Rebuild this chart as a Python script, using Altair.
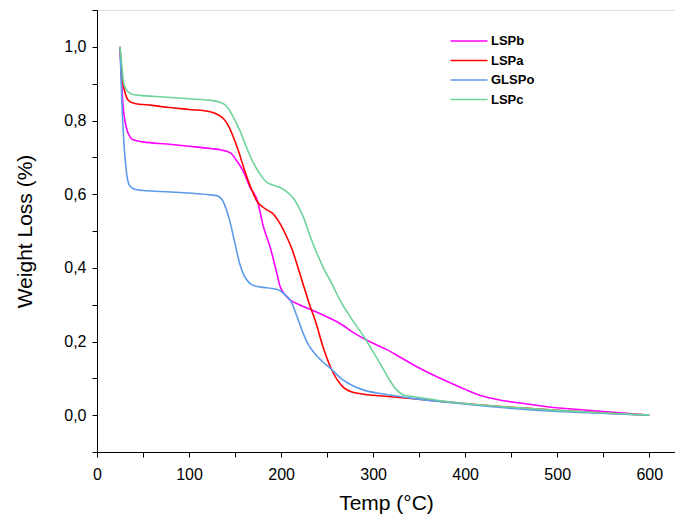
import altair as alt
import pandas as pd

series_names = ["LSPb", "LSPa", "GLSPo", "LSPc"]
series_colors = ["#FF00FF", "#FF0000", "#5C9BEA", "#6DD39B"]

lspb_t = [25, 28, 32, 36, 40, 50, 76, 100, 123, 135, 145, 152, 159, 166, 174, 181, 188, 194, 199, 205, 210, 220, 231, 253, 264, 280, 300, 315, 329, 345, 362, 380, 400, 416, 440, 460, 489, 520, 550, 575, 600]
lspb_w = [1.0, 0.85, 0.78, 0.755, 0.747, 0.742, 0.736, 0.730, 0.724, 0.720, 0.712, 0.69, 0.662, 0.62, 0.584, 0.51, 0.457, 0.40, 0.349, 0.325, 0.3125, 0.30, 0.288, 0.263, 0.249, 0.222, 0.195, 0.178, 0.158, 0.135, 0.113, 0.092, 0.07, 0.054, 0.04, 0.033, 0.023, 0.016, 0.01, 0.005, 0.0]

lspa_t = [25, 27, 30, 34, 40, 60, 76, 100, 123, 132, 137, 143, 148, 154, 159, 166, 174, 183, 192, 200, 206, 212, 217, 224, 231, 238, 245, 253, 260, 268, 278, 290, 320, 350, 380, 420, 460, 500, 550, 600]
lspa_w = [1.0, 0.92, 0.88, 0.855, 0.847, 0.841, 0.836, 0.830, 0.824, 0.815, 0.806, 0.785, 0.756, 0.715, 0.675, 0.625, 0.58, 0.56, 0.545, 0.515, 0.485, 0.45, 0.412, 0.355, 0.30, 0.25, 0.19, 0.135, 0.10, 0.075, 0.062, 0.057, 0.05, 0.043, 0.036, 0.027, 0.02, 0.013, 0.006, 0.0]

glspo_t = [25, 27, 29, 32, 35, 40, 50, 80, 100, 123, 130, 136, 141, 145, 150, 155, 160, 166, 173, 181, 190, 199, 205, 210, 217, 224, 230, 235, 245, 253, 265, 278, 290, 310, 344, 380, 420, 452, 500, 550, 600]
glspo_w = [1.0, 0.85, 0.75, 0.66, 0.625, 0.614, 0.61, 0.606, 0.603, 0.598, 0.596, 0.585, 0.555, 0.52, 0.465, 0.412, 0.378, 0.358, 0.35, 0.347, 0.344, 0.338, 0.325, 0.3125, 0.27, 0.222, 0.19, 0.172, 0.145, 0.129, 0.10, 0.08, 0.068, 0.058, 0.045, 0.035, 0.025, 0.018, 0.01, 0.005, 0.0]

lspc_t = [25, 27, 29, 32, 36, 40, 60, 76, 100, 126, 134, 141, 148, 155, 162, 170, 177, 184, 192, 199, 206, 213, 218, 224, 231, 239, 246, 253, 264, 277, 290, 300, 310, 318, 325, 333, 345, 380, 420, 460, 500, 550, 600]
lspc_w = [1.0, 0.95, 0.90, 0.883, 0.874, 0.870, 0.866, 0.863, 0.859, 0.854, 0.849, 0.838, 0.81, 0.774, 0.73, 0.684, 0.655, 0.633, 0.624, 0.618, 0.607, 0.59, 0.57, 0.539, 0.49, 0.439, 0.40, 0.367, 0.3125, 0.26, 0.213, 0.172, 0.13, 0.095, 0.07, 0.055, 0.05, 0.037, 0.027, 0.02, 0.013, 0.006, 0.0]

x_ticks = [0, 50, 100, 150, 200, 250, 300, 350, 400, 450, 500, 550, 600]
y_ticks = [-0.1, 0.0, 0.1, 0.2, 0.3, 0.4, 0.5, 0.6, 0.7, 0.8, 0.9, 1.0, 1.1]

frames = []
for name, ts, ws in [("LSPb", lspb_t, lspb_w), ("LSPa", lspa_t, lspa_w),
                     ("GLSPo", glspo_t, glspo_w), ("LSPc", lspc_t, lspc_w)]:
    frames.append(pd.DataFrame({"T": ts, "W": ws, "Sample": name}))
df = pd.concat(frames, ignore_index=True)
df["order"] = df["Sample"].map({n: i for i, n in enumerate(series_names)})

FONT = "Liberation Sans"

chart = alt.Chart(df).mark_line(strokeWidth=1.6, interpolate="monotone").encode(
    x=alt.X("T:Q",
            scale=alt.Scale(domain=[0, 628], nice=False, zero=False),
            axis=alt.Axis(title="Temp (°C)", values=x_ticks,
                          labelExpr="datum.value % 100 == 0 ? datum.label : ''",
                          grid=False, tickSize=5, labelPadding=9, titlePadding=10,
                          labelFontSize=16, titleFontSize=21, titleFontWeight="normal",
                          labelFont=FONT, titleFont=FONT, domainColor="black", tickColor="black",
                          labelColor="black", titleColor="black", labelFlush=False)),
    y=alt.Y("W:Q",
            scale=alt.Scale(domain=[-0.1, 1.1], nice=False, zero=False),
            axis=alt.Axis(title="Weight Loss (%)", values=y_ticks,
                          labelExpr="round(datum.value*10) % 2 == 0 ? replace(format(datum.value, '.1f'), '.', ',') : ''",
                          grid=False, tickSize=5, labelPadding=6, titlePadding=28,
                          labelFontSize=16, titleFontSize=21, titleFontWeight="normal",
                          labelFont=FONT, titleFont=FONT, domainColor="black", tickColor="black",
                          labelColor="black", titleColor="black", labelFlush=False)),
    color=alt.Color("Sample:N",
                    scale=alt.Scale(domain=series_names, range=series_colors),
                    legend=alt.Legend(title=None, orient="none", legendX=361, legendY=20,
                                      symbolType="M-1.85,0H1.85", symbolSize=400, symbolStrokeWidth=1.6,
                                      symbolFillColor="transparent",
                                      labelOffset=11, labelFont=FONT, labelFontSize=13, labelFontWeight="bold",
                                      labelColor="black", rowPadding=1.5, padding=0)),
    order=alt.Order("order:Q"),
    detail="Sample:N",
).properties(
    width=578, height=442,
    autosize=alt.AutoSizeParams(type="none"),
    padding={"left": 89, "top": 2, "right": 0, "bottom": 62},
).configure_view(stroke=None).configure(background="white")

chart.save("out.html", embed_options={"renderer": "svg", "actions": False})
